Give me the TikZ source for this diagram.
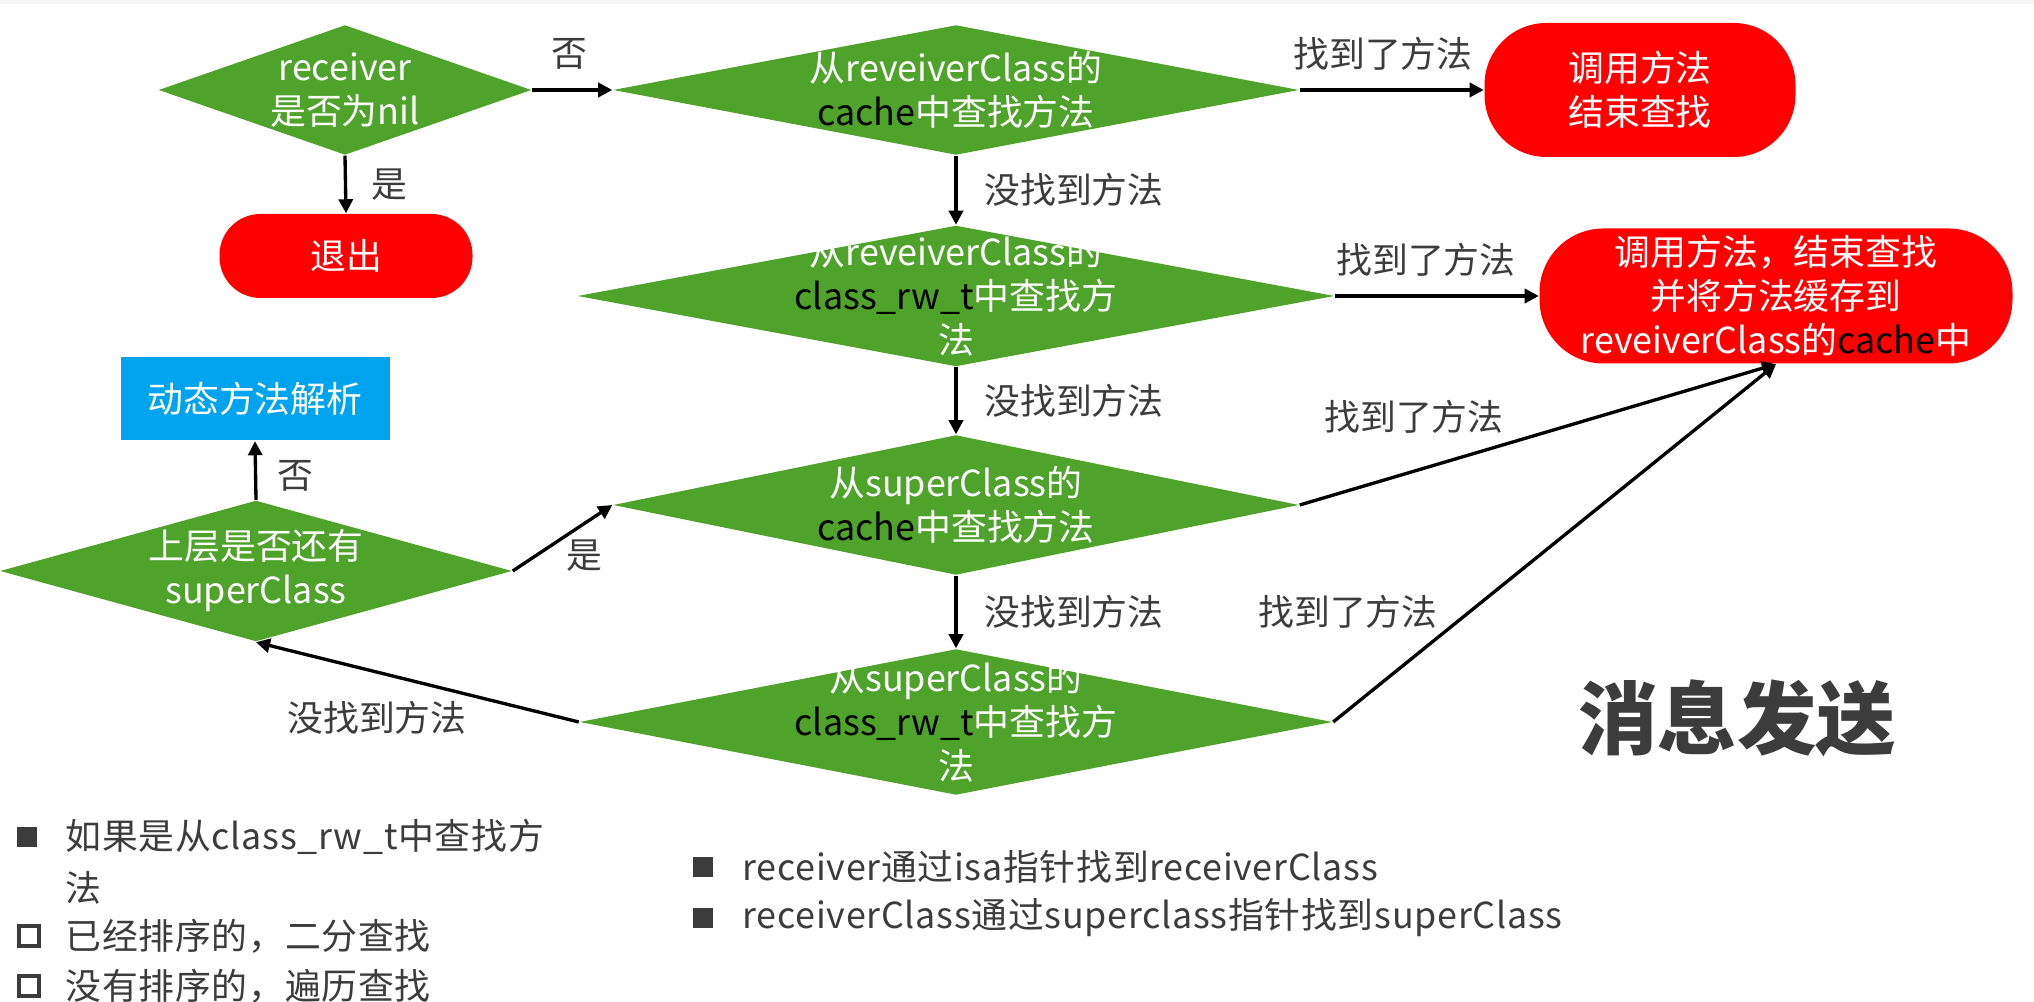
\documentclass[tikz,border=0pt]{standalone}
\usepackage{fontspec}
\setmainfont{Noto Sans CJK SC}
\newfontfamily\notefont{Noto Sans CJK SC}[LetterSpace=2]
\usetikzlibrary{shapes.geometric,arrows.meta,positioning}
\definecolor{flowgreen}{HTML}{4FA22A}
\definecolor{flowred}{HTML}{FF0000}
\definecolor{flowblue}{HTML}{00A3EE}
\definecolor{txtgray}{HTML}{3C3C3C}
\definecolor{topgray}{HTML}{F4F4F4}
\newcommand{\inblack}[1]{\textcolor{black}{#1}}
\newcommand{\flowfont}{\fontsize{10.2}{12.5}\selectfont}

\begin{document}
\begin{tikzpicture}

%% -- helpers ------------------------------------------------
\tikzset{
  dia/.style 2 args={diamond,fill=flowgreen,inner sep=0pt,
                     minimum width=#1,minimum height=#2},
  dtxt/.style={align=center,text=white,font=\flowfont,inner sep=0pt},
  term/.style={rectangle,fill=flowred,rounded corners=#1,inner sep=0pt,
               align=center,text=white,font=\flowfont},
  lbl/.style={text=txtgray,font=\flowfont},
  arr/.style={-{Triangle[length=4pt,width=4pt]},line width=0.95pt,black},
  btxt/.style={text=txtgray,font=\notefont\flowfont,anchor=west,inner sep=0pt},
  sqfill/.style={rectangle,fill=txtgray,minimum size=0.2cm,inner sep=0pt},
  sqopen/.style={rectangle,draw=txtgray,line width=1.3pt,fill=white,
                 minimum size=0.2cm,inner sep=0pt},
}

\useasboundingbox (0,0) rectangle (20.34,10.02);
\fill[white] (0,0) rectangle (20.34,10.02);
\fill[topgray] (0,9.98) rectangle (20.34,10.02);

%% -- decisions -----------------------------------------------
\node[dia={3.73cm}{1.30cm},label={[dtxt]center:{receiver\\是否为nil}}]
  (isnil) at (3.45,9.12) {};
\node[dia={6.86cm}{1.30cm},
      label={[dtxt]center:{从reveiverClass的\\\inblack{cache}中查找方法}}]
  (rcache) at (9.56,9.12) {};
\node[dia={7.57cm}{1.41cm},
      label={[dtxt]center:{从reveiverClass的\\\inblack{class\_rw\_t}中查找方\\法}}]
  (rrw) at (9.56,7.06) {};
\node[dia={6.86cm}{1.40cm},
      label={[dtxt]center:{从superClass的\\\inblack{cache}中查找方法}}]
  (scache) at (9.56,4.97) {};
\node[dia={7.53cm}{1.46cm},
      label={[dtxt]center:{从superClass的\\\inblack{class\_rw\_t}中查找方\\法}}]
  (srw) at (9.56,2.80) {};
\node[dia={5.12cm}{1.41cm},label={[dtxt]center:{上层是否还有\\superClass}}]
  (hassuper) at (2.56,4.31) {};

%% -- terminals -----------------------------------------------
\node[term=0.62cm,minimum width=3.11cm,minimum height=1.34cm]
  (callend) at (16.40,9.12) {调用方法\\结束查找};
\node[term=0.41cm,minimum width=2.53cm,minimum height=0.84cm]
  (quit) at (3.46,7.46) {退出};
\node[term=0.64cm,minimum width=4.73cm,minimum height=1.35cm]
  (callcache) at (17.76,7.06)
  {调用方法，结束查找\\并将方法缓存到\\reveiverClass的\inblack{cache}中};
\node[rectangle,fill=flowblue,minimum width=2.69cm,minimum height=0.83cm,
      text=white,font=\flowfont] (dynres) at (2.55,6.03) {动态方法解析};

%% -- connectors ----------------------------------------------
\draw[arr] (isnil.east)   -- (rcache.west);
\draw[arr] (isnil.south)  -- (quit.north);
\draw[arr] (rcache.east)  -- (callend.west);
\draw[arr] (rcache.south) -- (rrw.north);
\draw[arr] (rrw.east)     -- (callcache.west);
\draw[arr] (rrw.south)    -- (scache.north);
\draw[arr] (scache.east)  -- (callcache.south);
\draw[arr] (scache.south) -- (srw.north);
\draw[arr] (srw.east)     -- (callcache.south);
\draw[arr] (srw.west)     -- (hassuper.south);
\draw[arr] (hassuper.east)  -- (scache.west);
\draw[arr] (hassuper.north) -- (dynres.south);

%% -- connector labels ----------------------------------------
\node[lbl] (nno)    at (5.69,9.48)  {否};
\node[lbl] (nyes)   at (3.89,8.17)  {是};
\node[lbl] (found1) at (13.83,9.48) {找到了方法};
\node[lbl] (miss1)  at (10.74,8.12) {没找到方法};
\node[lbl] (found2) at (14.26,7.42) {找到了方法};
\node[lbl] (miss2)  at (10.74,6.01) {没找到方法};
\node[lbl] (found3) at (14.14,5.85) {找到了方法};
\node[lbl] (miss3)  at (10.74,3.90) {没找到方法};
\node[lbl] (found4) at (13.48,3.90) {找到了方法};
\node[lbl] (syes)   at (5.84,4.46)  {是};
\node[lbl] (sno)    at (2.95,5.26)  {否};
\node[lbl] (miss4)  at (3.77,2.84)  {没找到方法};

%% -- title ---------------------------------------------------
\node[text=txtgray,font=\fontsize{22.6}{27}\selectfont\bfseries]
  (title) at (17.37,2.84) {消息发送};

%% -- notes ---------------------------------------------------
\node[sqfill] (bq1) at (0.27,1.65) {};
\node[btxt]   (nt1) at (0.65,1.65) {如果是从class\_rw\_t中查找方};
\node[btxt]   (nt1b) at (0.65,1.14) {法};
\node[sqopen] (bq2) at (0.29,0.66) {};
\node[btxt]   (nt2) at (0.65,0.66) {已经排序的，二分查找};
\node[sqopen] (bq3) at (0.29,0.16) {};
\node[btxt]   (nt3) at (0.65,0.16) {没有排序的，遍历查找};

\node[sqfill] (bq4) at (7.03,1.35) {};
\node[btxt]   (nt4) at (7.42,1.35) {receiver通过isa指针找到receiverClass};
\node[sqfill] (bq5) at (7.03,0.84) {};
\node[btxt]   (nt5) at (7.42,0.84) {receiverClass通过superclass指针找到superClass};

\end{tikzpicture}
\end{document}
